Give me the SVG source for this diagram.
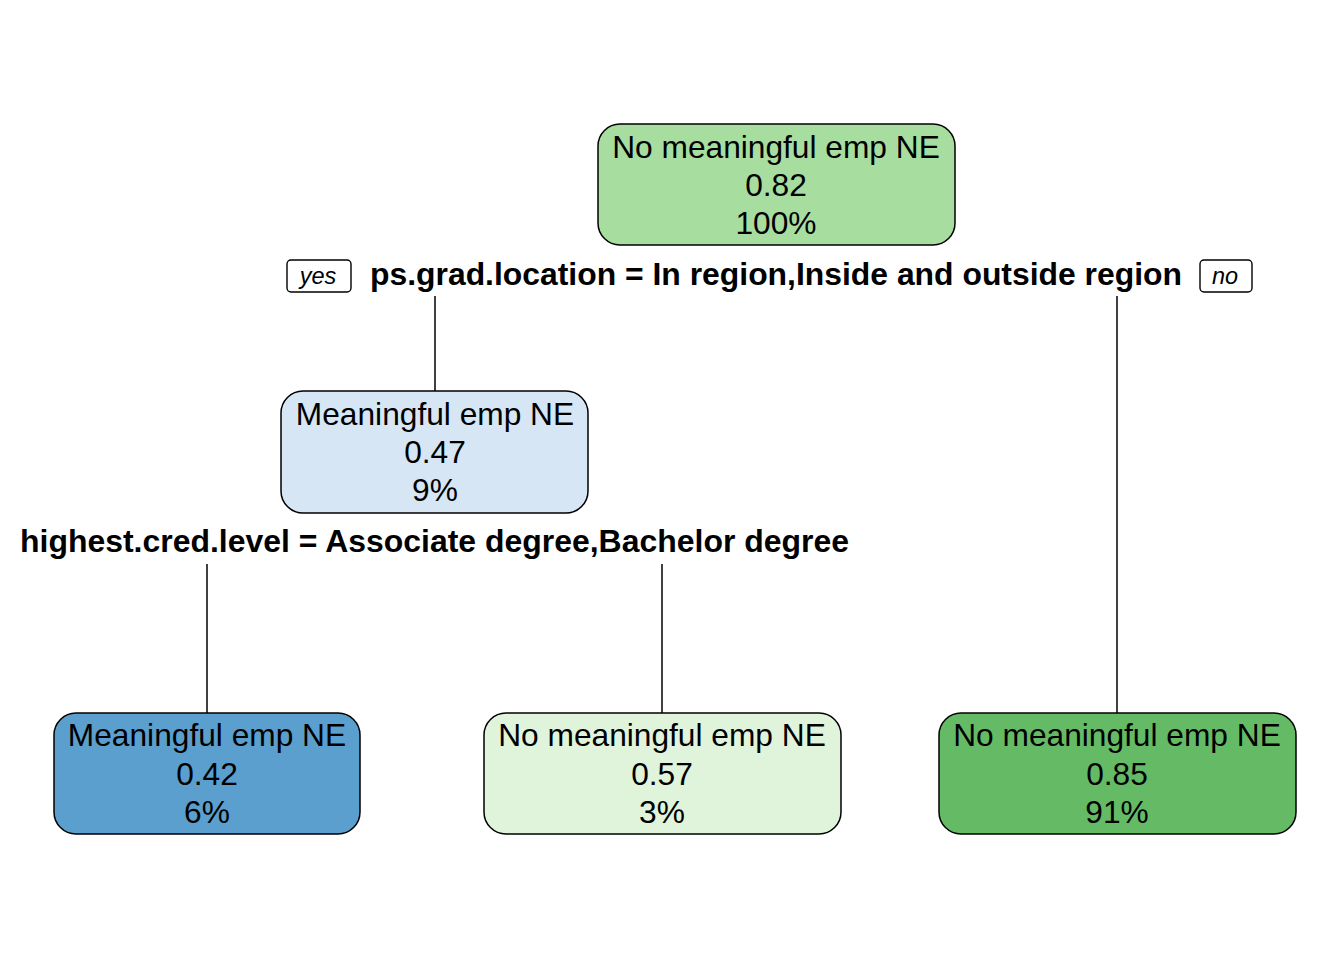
<svg xmlns="http://www.w3.org/2000/svg" width="1344" height="960" viewBox="0 0 1344 960">
<style>
.box{stroke:#000;stroke-width:1.5}
.t{font-family:"Liberation Sans",Arial,sans-serif;font-size:31.7px;text-anchor:middle;fill:#000}
.s{font-family:"Liberation Sans",Arial,sans-serif;font-size:31px;font-weight:bold;fill:#000}
.yn{font-family:"Liberation Sans",Arial,sans-serif;font-size:23.5px;font-style:italic;text-anchor:middle;fill:#000}
.lbl{fill:#fff;stroke:#000;stroke-width:1.4}
.c{stroke:#000;stroke-width:1.5;fill:none}
</style>
<rect width="1344" height="960" fill="#fff"/>
<g id="connectors">
<line class="c" x1="435" y1="296" x2="435" y2="391"/>
<line class="c" x1="1117" y1="296" x2="1117" y2="713"/>
<line class="c" x1="207" y1="564" x2="207" y2="713"/>
<line class="c" x1="662" y1="564" x2="662" y2="713"/>
</g>
<g id="root">
<rect class="box" x="598" y="124" width="357" height="121" rx="22" fill="#A8DDA0"/>
<text class="t" x="776" y="158">No meaningful emp NE</text>
<text class="t" x="776" y="196">0.82</text>
<text class="t" x="776" y="234">100%</text>
</g>
<g id="split1">
<rect class="lbl" x="287" y="260" width="64" height="32" rx="4"/>
<text class="yn" x="318" y="284">yes</text>
<text class="s" x="370" y="285" textLength="812" lengthAdjust="spacingAndGlyphs">ps.grad.location = In region,Inside and outside region</text>
<rect class="lbl" x="1200" y="260" width="52" height="32" rx="4"/>
<text class="yn" x="1225" y="284">no</text>
</g>
<g id="node2">
<rect class="box" x="281" y="391" width="307" height="122" rx="22" fill="#D6E6F5"/>
<text class="t" x="435" y="425">Meaningful emp NE</text>
<text class="t" x="435" y="463">0.47</text>
<text class="t" x="435" y="501">9%</text>
</g>
<g id="split2">
<text class="s" x="20" y="552" textLength="829" lengthAdjust="spacingAndGlyphs">highest.cred.level = Associate degree,Bachelor degree</text>
</g>
<g id="leaf1">
<rect class="box" x="54" y="713" width="306" height="121" rx="22" fill="#5A9FCD"/>
<text class="t" x="207" y="746">Meaningful emp NE</text>
<text class="t" x="207" y="785">0.42</text>
<text class="t" x="207" y="823">6%</text>
</g>
<g id="leaf2">
<rect class="box" x="484" y="713" width="357" height="121" rx="22" fill="#E0F3DB"/>
<text class="t" x="662" y="746">No meaningful emp NE</text>
<text class="t" x="662" y="785">0.57</text>
<text class="t" x="662" y="823">3%</text>
</g>
<g id="leaf3">
<rect class="box" x="939" y="713" width="357" height="121" rx="22" fill="#65BB65"/>
<text class="t" x="1117" y="746">No meaningful emp NE</text>
<text class="t" x="1117" y="785">0.85</text>
<text class="t" x="1117" y="823">91%</text>
</g>
</svg>
